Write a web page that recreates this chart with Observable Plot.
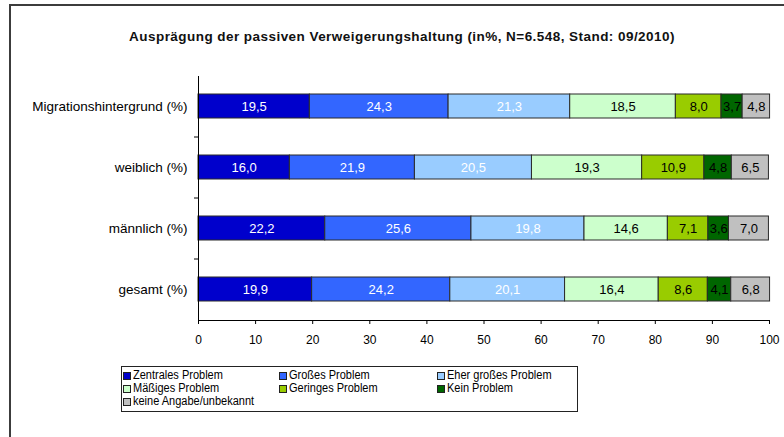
<!DOCTYPE html>
<html>
<head>
<meta charset="utf-8">
<script src="https://cdn.jsdelivr.net/npm/d3@7"></script>
<script src="https://cdn.jsdelivr.net/npm/@observablehq/plot@0.6"></script>
<style>
  html, body { margin: 0; padding: 0; background: #fff; }
  #wrap { position: relative; width: 784px; height: 437px; overflow: hidden; font-family: "Liberation Sans", Arial, sans-serif; }
  #frame { position: absolute; left: 9px; top: 4px; width: 800px; height: 460px; border-top: 2px solid #3c3c3c; border-left: 2px solid #3c3c3c; }
  #title { position: absolute; left: 0; width: 804px; top: 29px; text-align: center; font-weight: bold; font-size: 13.5px; letter-spacing: 0.45px; color: #111; }
  #chart { position: absolute; left: 0; top: 0; }
  #legend { position: absolute; left: 121px; top: 366px; width: 457px; height: 46px; border: 1px solid #222; box-sizing: border-box; }
  .li { position: absolute; white-space: nowrap; color: #000; height: 12px; }
  .sw { position: absolute; left: 0; top: 3px; width: 6px; height: 6px; border: 1px solid #222; }
  .tx { position: absolute; left: 10px; top: 0; font-size: 12.5px; line-height: 12px; transform: scale(0.88, 1); transform-origin: 0 0; }
</style>
</head>
<body>
<div id="wrap">
  <div id="frame"></div>
  <div id="chart"></div>
  <div id="title"></div>
  <div id="legend"></div>
</div>
<script>
const title = "Ausprägung der passiven Verweigerungshaltung (in%, N=6.548, Stand: 09/2010)";
const groups = ["Migrationshintergrund (%)", "weiblich (%)", "männlich (%)", "gesamt (%)"];
const series = ["Zentrales Problem", "Großes Problem", "Eher großes Problem", "Mäßiges Problem", "Geringes Problem", "Kein Problem", "keine Angabe/unbekannt"];
const colors = ["#0000CC", "#3366FF", "#99CCFF", "#CCFFCC", "#99CC00", "#006600", "#C0C0C0"];
const labelColors = ["#fff", "#fff", "#fff", "#000", "#000", "#000", "#000"];
const migration = [19.5, 24.3, 21.3, 18.5, 8.0, 3.7, 4.8];
const weiblich  = [16.0, 21.9, 20.5, 19.3, 10.9, 4.8, 6.5];
const maennlich = [22.2, 25.6, 19.8, 14.6, 7.1, 3.6, 7.0];
const gesamt    = [19.9, 24.2, 20.1, 16.4, 8.6, 4.1, 6.8];
const xTicks = [0, 10, 20, 30, 40, 50, 60, 70, 80, 90, 100];

const rows = [migration, weiblich, maennlich, gesamt];
const data = [];
rows.forEach((vals, gi) => vals.forEach((v, si) => data.push({group: groups[gi], series: series[si], si, value: v})));

document.getElementById("title").textContent = title;

const W = 784, H = 437, mt = 76, mb = 117;
const step = (H - mt - mb) / groups.length;
const fmt = d3.format(".1f");

const chart = Plot.plot({
  width: W, height: H,
  marginLeft: 198, marginRight: 15, marginTop: mt, marginBottom: mb,
  style: {fontFamily: "Liberation Sans, Arial, sans-serif", fontSize: "12px", color: "#000", background: "transparent"},
  x: {domain: [0, 100], ticks: xTicks},
  y: {domain: groups, paddingInner: 0.6, paddingOuter: 0.3},
  color: {domain: series, range: colors},
  marks: [
    Plot.barX(data, Plot.stackX({x: "value", y: "group", fill: "series", stroke: "#2a2a2a", strokeWidth: 1})),
    Plot.text(data, Plot.stackX({x: "value", y: "group", text: d => fmt(d.value).replace(".", ","), fill: d => labelColors[d.si], fontSize: 13})),
    Plot.axisX({ticks: xTicks, tickSize: 4, tickPadding: 11, label: null, fontSize: 12, stroke: "#000"}),
    Plot.axisY({tickSize: 0, tickPadding: 11, label: null, fontSize: 13.5}),
    Plot.axisY(groups.slice(1), {tickSize: 4, text: null, label: null, dy: -step / 2, stroke: "#000"}),
    Plot.ruleX([0], {stroke: "#000"}),
    Plot.frame({anchor: "bottom", stroke: "#000"})
  ]
});
document.getElementById("chart").appendChild(chart);

const legend = document.getElementById("legend");
const colX = [1, 157, 315];
const rowY = [2, 15, 28];
series.forEach((s, i) => {
  const el = document.createElement("div");
  el.className = "li";
  el.style.left = colX[i % 3] + "px";
  el.style.top = rowY[Math.floor(i / 3)] + "px";
  const sw = document.createElement("span");
  sw.className = "sw";
  sw.style.background = colors[i];
  const tx = document.createElement("span");
  tx.className = "tx";
  tx.textContent = s;
  el.appendChild(sw);
  el.appendChild(tx);
  legend.appendChild(el);
});
</script>
</body>
</html>
